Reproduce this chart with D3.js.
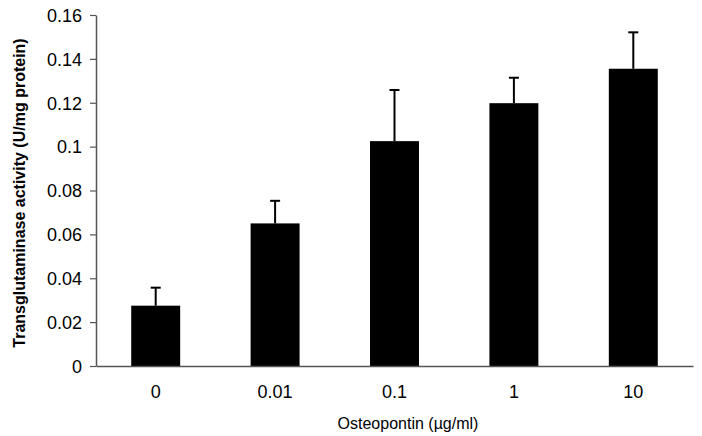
<!DOCTYPE html>
<html>
<head>
<meta charset="utf-8">
<script src="https://cdn.jsdelivr.net/npm/d3@7"></script>
<style>
  html, body { margin: 0; padding: 0; background: #fff; }
  svg { display: block; }
  text { font-family: "Liberation Sans", Arial, sans-serif; fill: #000; }
</style>
</head>
<body>
<svg id="chart" width="702" height="436"></svg>
<script>
const categories = ["0", "0.01", "0.1", "1", "10"];
const values = [0.0275, 0.065, 0.1025, 0.1198, 0.1355];
const errors = [0.0082, 0.0103, 0.0233, 0.0116, 0.0166];
const yTicks = [0, 0.02, 0.04, 0.06, 0.08, 0.1, 0.12, 0.14, 0.16];
const yLabels = ["0", "0.02", "0.04", "0.06", "0.08", "0.1", "0.12", "0.14", "0.16"];

const svg = d3.select("#chart");
const margin = { left: 96, right: 9, top: 15, bottom: 70 };
const W = 702, H = 436;
const FF = "'Liberation Sans', Arial, sans-serif";

const x = d3.scaleBand().domain(categories)
  .range([margin.left, W - margin.right]).paddingInner(0.59).paddingOuter(0.295);
const y = d3.scaleLinear().domain([0, 0.16]).range([H - margin.bottom, margin.top]);

// bars
svg.append("g").selectAll("rect").data(values).join("rect")
  .attr("x", (d, i) => x(categories[i]))
  .attr("y", d => y(d))
  .attr("width", x.bandwidth())
  .attr("height", d => y(0) - y(d))
  .attr("fill", "#000");

// error bars
const eg = svg.append("g").attr("stroke", "#000").attr("stroke-width", 2);
values.forEach((v, i) => {
  const cx = x(categories[i]) + x.bandwidth() / 2;
  eg.append("line").attr("x1", cx).attr("x2", cx).attr("y1", y(v)).attr("y2", y(v + errors[i]));
  eg.append("line").attr("x1", cx - 5).attr("x2", cx + 5).attr("y1", y(v + errors[i])).attr("y2", y(v + errors[i]));
});

// y axis
const yAxis = d3.axisLeft(y).tickValues(yTicks).tickFormat((d, i) => yLabels[i]).tickSize(6).tickSizeOuter(0);
const ya = svg.append("g").attr("transform", `translate(${margin.left},0)`).call(yAxis);
ya.attr("font-size", null).attr("font-family", null);
ya.select(".domain").attr("stroke", "#555").attr("stroke-width", 1.5);
ya.selectAll(".tick line").attr("stroke", "#555").attr("stroke-width", 1.2);
ya.selectAll(".tick text").attr("x", -14).attr("dy", "0.35em")
  .style("font-size", "18px").style("font-family", FF);

// x axis
const xAxis = d3.axisBottom(x).tickSize(0).tickSizeOuter(0);
const xa = svg.append("g").attr("transform", `translate(0,${y(0)})`).call(xAxis);
xa.attr("font-size", null).attr("font-family", null);
xa.select(".domain").attr("stroke", "#555").attr("stroke-width", 1.5);
xa.selectAll(".tick text").attr("y", 19).attr("dy", "0.71em")
  .style("font-size", "18px").style("font-family", FF);

// axis titles
svg.append("text")
  .attr("x", 408)
  .attr("y", 429)
  .attr("text-anchor", "middle")
  .style("font-size", "16px").style("font-family", FF)
  .text("Osteopontin (\u00b5g/ml)");

svg.append("text")
  .attr("transform", `translate(25,${193}) rotate(-90)`)
  .attr("text-anchor", "middle")
  .style("font-size", "16px").style("font-family", FF)
  .attr("font-weight", "bold")
  .text("Transglutaminase activity (U/mg protein)");
</script>
</body>
</html>
